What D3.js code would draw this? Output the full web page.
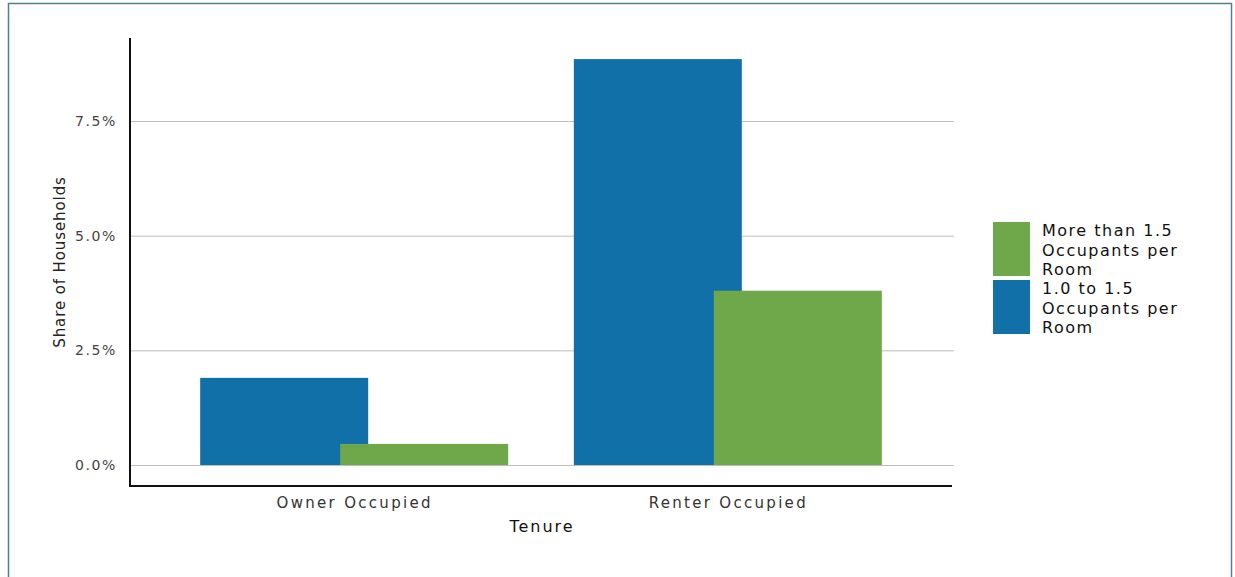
<!DOCTYPE html>
<html>
<head>
<meta charset="utf-8">
<script src="https://cdn.jsdelivr.net/npm/d3@7"></script>
<style>
  body { margin: 0; background: #fff; }
  text { font-family: "DejaVu Sans", Verdana, sans-serif; }
</style>
</head>
<body>
<div id="chart"></div>
<script>
const categories = ['Owner Occupied', 'Renter Occupied'];
const seriesNames = ['1.0 to 1.5 Occupants per Room', 'More than 1.5 Occupants per Room'];
const moderate = [1.9, 8.85];   // 1.0 to 1.5 occupants per room (%)
const severe = [0.46, 3.8];     // more than 1.5 occupants per room (%)
const yTicks = [0, 2.5, 5, 7.5];
const legendLines = [
  ['More than 1.5', 'Occupants per', 'Room'],
  ['1.0 to 1.5', 'Occupants per', 'Room']
];

const width = 1235;
const height = 577;
const colors = { moderate: '#1270a8', severe: '#6fa84b' };

const svg = d3.select('#chart').append('svg')
  .attr('width', width)
  .attr('height', height);

// frame
svg.append('rect')
  .attr('x', 8.5).attr('y', 3.5)
  .attr('width', 1223).attr('height', 600)
  .attr('fill', 'none')
  .attr('stroke', '#4f8099')
  .attr('stroke-width', 1.5);

const x = d3.scalePoint()
  .domain(categories)
  .range([130, 952])
  .padding(0.6);

const sub = d3.scalePoint()
  .domain(seriesNames)
  .range([-70, 70]);
const barWidth = 168;

const y = d3.scaleLinear()
  .domain([0, 9.31])
  .range([465, 38]);

// gridlines
svg.append('g')
  .selectAll('line')
  .data(yTicks)
  .enter()
  .append('line')
  .attr('x1', 131).attr('x2', 954)
  .attr('y1', d => y(d) + 0.5).attr('y2', d => y(d) + 0.5)
  .attr('stroke', '#bdbdbd')
  .attr('stroke-width', 1);

// y tick labels
const yAxis = d3.axisLeft(y)
  .tickValues(yTicks)
  .tickSize(0)
  .tickPadding(0)
  .tickFormat(d => d3.format('.1f')(d) + '%');

const yg = svg.append('g')
  .attr('transform', 'translate(117,0)')
  .call(yAxis);
yg.select('.domain').remove();
yg.selectAll('text')
  .style('font-family', '"DejaVu Sans", Verdana, sans-serif')
  .style('font-size', '14px')
  .style('letter-spacing', '1.6px')
  .attr('fill', '#444');

// bars
const rows = categories.map((c, i) => ({ cat: c, values: [moderate[i], severe[i]] }));
const groups = svg.append('g')
  .selectAll('g')
  .data(rows)
  .enter()
  .append('g')
  .attr('transform', d => `translate(${x(d.cat)},0)`);

groups.selectAll('rect')
  .data(d => d.values.map((v, j) => ({ key: seriesNames[j], value: v, j })))
  .enter()
  .append('rect')
  .attr('x', d => sub(d.key) - barWidth / 2)
  .attr('width', barWidth)
  .attr('y', d => y(d.value))
  .attr('height', d => y(0) - y(d.value))
  .attr('fill', d => (d.j === 0 ? colors.moderate : colors.severe));

// axis lines
svg.append('line')
  .attr('x1', 130).attr('x2', 130)
  .attr('y1', 38).attr('y2', 487)
  .attr('stroke', '#111').attr('stroke-width', 2);
svg.append('line')
  .attr('x1', 129).attr('x2', 952)
  .attr('y1', 486).attr('y2', 486)
  .attr('stroke', '#111').attr('stroke-width', 2);

// x labels
const xAxis = d3.axisBottom(x).tickSize(0).tickPadding(0);
const xg = svg.append('g')
  .attr('transform', 'translate(0,497)')
  .call(xAxis);
xg.select('.domain').remove();
xg.selectAll('text')
  .style('font-family', '"DejaVu Sans", Verdana, sans-serif')
  .style('font-size', '15px')
  .style('letter-spacing', '2.3px')
  .attr('fill', '#333');

svg.append('text')
  .attr('x', 542).attr('y', 532)
  .attr('text-anchor', 'middle')
  .style('font-size', '16px')
  .style('letter-spacing', '2px')
  .attr('fill', '#111')
  .text('Tenure');

svg.append('text')
  .attr('transform', 'translate(65,262) rotate(-90)')
  .attr('text-anchor', 'middle')
  .style('font-size', '15px')
  .style('letter-spacing', '0.9px')
  .attr('fill', '#222')
  .text('Share of Households');

// legend
const legendColors = [colors.severe, colors.moderate];
const legend = svg.append('g')
  .selectAll('g')
  .data(legendLines)
  .enter()
  .append('g')
  .attr('transform', (d, i) => `translate(993,${222 + i * 58})`);

legend.append('rect')
  .attr('width', 37).attr('height', 54)
  .attr('fill', (d, i) => legendColors[i]);

legend.append('text')
  .attr('x', 49)
  .attr('y', 14)
  .style('font-size', '16px')
  .style('letter-spacing', '1.5px')
  .attr('fill', '#111')
  .selectAll('tspan')
  .data(d => d)
  .enter()
  .append('tspan')
  .attr('x', 49)
  .attr('dy', (d, i) => (i === 0 ? 0 : 19.5))
  .text(d => d);
</script>
</body>
</html>
